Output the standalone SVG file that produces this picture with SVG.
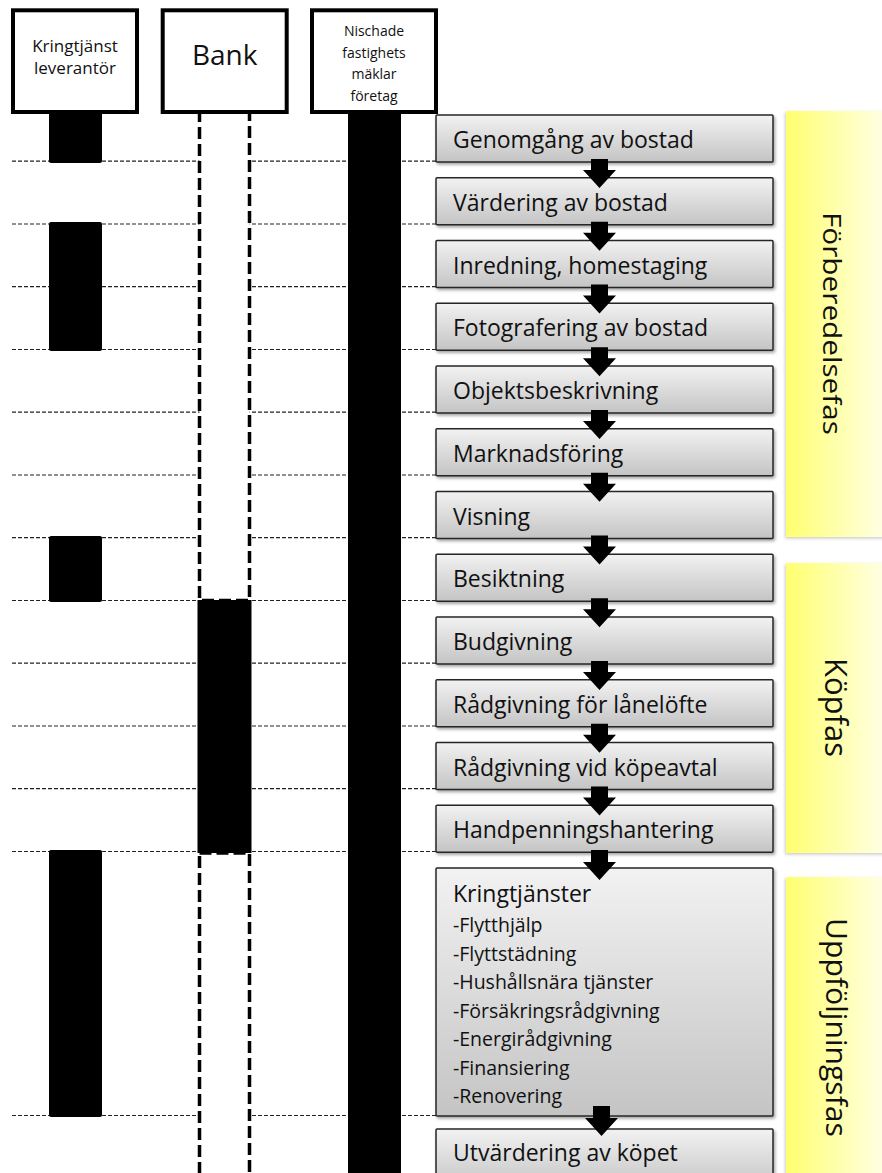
<svg xmlns="http://www.w3.org/2000/svg" width="882" height="1173" viewBox="0 0 882 1173">
<defs>
<linearGradient id="boxGrad" x1="0" y1="0" x2="0" y2="1">
<stop offset="0" stop-color="#f2f2f2"/>
<stop offset="1" stop-color="#c4c4c4"/>
</linearGradient>
<linearGradient id="phaseGrad" x1="0" y1="0" x2="1" y2="0">
<stop offset="0" stop-color="#ffff70"/>
<stop offset="1" stop-color="#fffff2"/>
</linearGradient>
<filter id="shadow" x="-10%" y="-10%" width="130%" height="130%">
<feDropShadow dx="1.5" dy="2" stdDeviation="1.5" flood-color="#000" flood-opacity="0.35"/>
</filter>
<filter id="pshadow" x="-10%" y="-10%" width="130%" height="130%">
<feDropShadow dx="-1" dy="1.5" stdDeviation="1.5" flood-color="#000" flood-opacity="0.2"/>
</filter>
<style>
.hdr{fill:#fff;stroke:#000;stroke-width:4}
.hdrtxt{font-family:"Open Sans","Noto Sans",sans-serif;fill:#111;text-anchor:middle}
.bar{fill:#000}
.bankdash{fill:#fff;stroke:#000;stroke-width:3.5;stroke-dasharray:12 5}
.guide{stroke:#222;stroke-width:1.2;stroke-dasharray:4 2;fill:none}
.box{fill:url(#boxGrad);stroke:#262626;stroke-width:1.5;filter:url(#shadow)}
.btxt{font-family:"Open Sans","Noto Sans",sans-serif;font-size:23px;fill:#111}
.stxt{font-family:"Open Sans","Noto Sans",sans-serif;font-size:19.5px;fill:#111}
.phase{fill:url(#phaseGrad);filter:url(#pshadow)}
.ptxt{font-family:"Open Sans","Noto Sans",sans-serif;fill:#111;text-anchor:middle}
.arrow{fill:#000}
</style>
</defs>
<rect width="882" height="1173" fill="#fff"/>

<g id="guides">
<line class="guide" x1="12" y1="161.2" x2="437" y2="161.2"/>
<line class="guide" x1="12" y1="224" x2="437" y2="224"/>
<line class="guide" x1="12" y1="286.7" x2="437" y2="286.7"/>
<line class="guide" x1="12" y1="349.5" x2="437" y2="349.5"/>
<line class="guide" x1="12" y1="412.2" x2="437" y2="412.2"/>
<line class="guide" x1="12" y1="475" x2="437" y2="475"/>
<line class="guide" x1="12" y1="537.7" x2="437" y2="537.7"/>
<line class="guide" x1="12" y1="600.5" x2="437" y2="600.5"/>
<line class="guide" x1="12" y1="663.2" x2="437" y2="663.2"/>
<line class="guide" x1="12" y1="726" x2="437" y2="726"/>
<line class="guide" x1="12" y1="788.7" x2="437" y2="788.7"/>
<line class="guide" x1="12" y1="851.5" x2="437" y2="851.5"/>
<line class="guide" x1="12" y1="1115.5" x2="437" y2="1115.5"/>
</g>

<g id="lane-kringtjanst">
<rect class="bar" x="49" y="108" width="53" height="55" rx="2"/>
<rect class="bar" x="49" y="222" width="53" height="129" rx="2"/>
<rect class="bar" x="49" y="536" width="53" height="66" rx="2"/>
<rect class="bar" x="49" y="850" width="53" height="267" rx="2"/>
<rect class="hdr" x="13" y="10.3" width="124" height="101.7"/>
<text class="hdrtxt" font-size="17" x="75" y="52">Kringtjänst</text>
<text class="hdrtxt" font-size="17" x="75" y="74">leverantör</text>
</g>

<g id="lane-bank">
<rect class="bankdash" x="199.5" y="108" width="50" height="492.5"/>
<rect class="bar" x="197.5" y="600" width="54" height="253"/>
<rect class="bankdash" x="199.5" y="853" width="50" height="340"/>
<rect class="hdr" x="162.7" y="10.3" width="124" height="101.7"/>
<text class="hdrtxt" font-size="28" x="224.7" y="65">Bank</text>
</g>

<g id="lane-maklare">
<rect class="bar" x="348" y="108" width="53" height="1070"/>
<rect class="hdr" x="312" y="10.3" width="124" height="101.7"/>
<text class="hdrtxt" font-size="14" x="374" y="36">Nischade</text>
<text class="hdrtxt" font-size="14" x="374" y="57.5">fastighets</text>
<text class="hdrtxt" font-size="14" x="374" y="79">mäklar</text>
<text class="hdrtxt" font-size="14" x="374" y="100.5">företag</text>
</g>

<g id="phase-forberedelse">
<rect class="phase" x="786" y="111" width="110" height="426"/>
<text class="ptxt" font-size="26" textLength="223" lengthAdjust="spacingAndGlyphs" transform="translate(823,323.5) rotate(90)">Förberedelsefas</text>
</g>
<g id="phase-kop">
<rect class="phase" x="786" y="563" width="110" height="290"/>
<text class="ptxt" font-size="31" transform="translate(825,707.5) rotate(90)">Köpfas</text>
</g>
<g id="phase-uppfoljning">
<rect class="phase" x="786" y="877" width="110" height="310"/>
<text class="ptxt" font-size="29" textLength="219" lengthAdjust="spacingAndGlyphs" transform="translate(826,1027.5) rotate(90)">Uppföljningsfas</text>
</g>

<g id="step1"><rect class="box" x="436" y="115" width="337" height="47" rx="1"/><text class="btxt" x="453" y="148">Genomgång av bostad</text></g>
<g id="step2"><rect class="box" x="436" y="177.75" width="337" height="47" rx="1"/><text class="btxt" x="453" y="210.75">Värdering av bostad</text></g>
<g id="step3"><rect class="box" x="436" y="240.5" width="337" height="47" rx="1"/><text class="btxt" x="453" y="273.5">Inredning, homestaging</text></g>
<g id="step4"><rect class="box" x="436" y="303.25" width="337" height="47" rx="1"/><text class="btxt" x="453" y="336.25">Fotografering av bostad</text></g>
<g id="step5"><rect class="box" x="436" y="366" width="337" height="47" rx="1"/><text class="btxt" x="453" y="399">Objektsbeskrivning</text></g>
<g id="step6"><rect class="box" x="436" y="428.75" width="337" height="47" rx="1"/><text class="btxt" x="453" y="461.75">Marknadsföring</text></g>
<g id="step7"><rect class="box" x="436" y="491.5" width="337" height="47" rx="1"/><text class="btxt" x="453" y="524.5">Visning</text></g>
<g id="step8"><rect class="box" x="436" y="554.25" width="337" height="47" rx="1"/><text class="btxt" x="453" y="587.25">Besiktning</text></g>
<g id="step9"><rect class="box" x="436" y="617" width="337" height="47" rx="1"/><text class="btxt" x="453" y="650">Budgivning</text></g>
<g id="step10"><rect class="box" x="436" y="679.75" width="337" height="47" rx="1"/><text class="btxt" x="453" y="712.75">Rådgivning för lånelöfte</text></g>
<g id="step11"><rect class="box" x="436" y="742.5" width="337" height="47" rx="1"/><text class="btxt" x="453" y="775.5">Rådgivning vid köpeavtal</text></g>
<g id="step12"><rect class="box" x="436" y="805.25" width="337" height="47" rx="1"/><text class="btxt" x="453" y="838.25">Handpenningshantering</text></g>
<g id="step13"><rect class="box" x="436" y="868" width="337" height="248" rx="1"/>
<text class="btxt" x="453" y="902">Kringtjänster</text>
<text class="stxt" x="453" y="932">-Flytthjälp</text>
<text class="stxt" x="453" y="960.5">-Flyttstädning</text>
<text class="stxt" x="453" y="989">-Hushållsnära tjänster</text>
<text class="stxt" x="453" y="1017.5">-Försäkringsrådgivning</text>
<text class="stxt" x="453" y="1046">-Energirådgivning</text>
<text class="stxt" x="453" y="1074.5">-Finansiering</text>
<text class="stxt" x="453" y="1103">-Renovering</text>
</g>
<g id="step14"><rect class="box" x="436" y="1129" width="337" height="60" rx="1"/><text class="btxt" x="453" y="1161">Utvärdering av köpet</text></g>

<g id="connectors">
<polygon class="arrow" points="591,159 608,159 608,170 616,170 599.5,188 583,170 591,170"/>
<polygon class="arrow" points="591,221.75 608,221.75 608,232.75 616,232.75 599.5,250.75 583,232.75 591,232.75"/>
<polygon class="arrow" points="591,284.5 608,284.5 608,295.5 616,295.5 599.5,313.5 583,295.5 591,295.5"/>
<polygon class="arrow" points="591,347.25 608,347.25 608,358.25 616,358.25 599.5,376.25 583,358.25 591,358.25"/>
<polygon class="arrow" points="591,410 608,410 608,421 616,421 599.5,439 583,421 591,421"/>
<polygon class="arrow" points="591,472.75 608,472.75 608,483.75 616,483.75 599.5,501.75 583,483.75 591,483.75"/>
<polygon class="arrow" points="591,535.5 608,535.5 608,546.5 616,546.5 599.5,564.5 583,546.5 591,546.5"/>
<polygon class="arrow" points="591,598.25 608,598.25 608,609.25 616,609.25 599.5,627.25 583,609.25 591,609.25"/>
<polygon class="arrow" points="591,661 608,661 608,672 616,672 599.5,690 583,672 591,672"/>
<polygon class="arrow" points="591,723.75 608,723.75 608,734.75 616,734.75 599.5,752.75 583,734.75 591,734.75"/>
<polygon class="arrow" points="591,786.5 608,786.5 608,797.5 616,797.5 599.5,815.5 583,797.5 591,797.5"/>
<polygon class="arrow" points="591,850 608,850 608,862 616,862 599.5,880 583,862 591,862"/>
<polygon class="arrow" points="593,1106 610,1106 610,1118 618,1118 601.5,1136 585,1118 593,1118"/>
</g>
</svg>
